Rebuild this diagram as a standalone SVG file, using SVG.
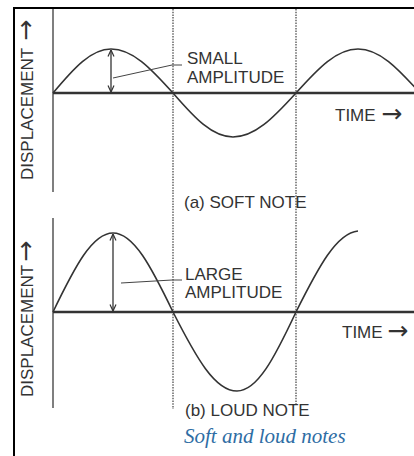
<svg xmlns="http://www.w3.org/2000/svg" width="414" height="456" viewBox="0 0 414 456">
<defs>
<marker id="ah" viewBox="0 0 8 8" refX="7.5" refY="4" markerWidth="8" markerHeight="8" markerUnits="userSpaceOnUse" orient="auto-start-reverse"><path d="M1,1 L7.5,4 L1,7" fill="none" stroke="#333" stroke-width="1.2"/></marker>
</defs>
<style>
.lbl{font-family:"Liberation Sans",Arial,sans-serif;fill:#333;font-size:17px}
.arr{font-family:"DejaVu Sans",sans-serif;font-size:25px}
.axis{stroke:#333;stroke-width:2.5}
.vaxis{stroke:#555;stroke-width:1.5}
.dot{stroke:#666;stroke-width:1.5;stroke-dasharray:1.5 1.2}
.wave{fill:none;stroke:#333;stroke-width:1.6}
.amp{stroke:#333;stroke-width:1.3}
.lead{fill:none;stroke:#444;stroke-width:1}
.cap{font-family:"Liberation Serif","Times New Roman",serif;font-style:italic;font-size:21px;fill:#2e6da4}
</style>
<rect width="414" height="456" fill="#fff"/>
<rect id="frame" x="14" y="8" width="420" height="470" fill="none" stroke="#000" stroke-width="2"/>

<g id="guides">
<line class="dot" x1="173" y1="9" x2="173" y2="409"/>
<line class="dot" x1="296" y1="9" x2="296" y2="406"/>
</g>

<g id="graph-a">
<line class="vaxis" x1="53" y1="9" x2="53" y2="192"/>
<line class="axis" x1="53" y1="93" x2="414" y2="93"/>
<path class="wave" d="M53,93 C74.1,67.8 91,49 111,49 C132.4,49 150.4,67.8 173,93 C194.8,118.2 212.3,137 233,137 C254.7,137 273.1,118.2 296,93 C318.6,67.8 336.6,49 358,49 C379.4,49 397.4,67.8 420,93"/>
<line class="amp" x1="111" y1="50" x2="111" y2="92" marker-start="url(#ah)" marker-end="url(#ah)"/>
<polyline class="lead" points="113,78 172,65 182,65"/>
<text class="lbl" x="335" y="121" font-size="15.5">TIME <tspan class="arr" dx="1" dy="1">→</tspan></text>
<text class="lbl" x="187" y="64">SMALL</text>
<text class="lbl" x="187" y="83">AMPLITUDE</text>
<text class="lbl" transform="translate(33,180) rotate(-90)">DISPLACEMENT<tspan class="arr" dx="7" dy="1">→</tspan></text>
<text class="lbl" x="184" y="208" font-size="17.5">(a) SOFT NOTE</text>
</g>

<g id="graph-b">
<line class="vaxis" x1="53" y1="218" x2="53" y2="408"/>
<line class="axis" x1="53" y1="312" x2="414" y2="312"/>
<path class="wave" d="M53,312 C74.8,266.8 92.3,233 113,233 C133.7,233 151.2,266.8 173,312 C196.3,357.8 214.9,391 237,391 C257.4,391 274.5,357.8 296,312 C318.6,266.8 336.6,233 358,231"/>
<line class="amp" x1="113" y1="234" x2="113" y2="311" marker-start="url(#ah)" marker-end="url(#ah)"/>
<polyline class="lead" points="121,283 172,280 182,280"/>
<text class="lbl" x="185" y="280">LARGE</text>
<text class="lbl" x="185" y="298">AMPLITUDE</text>
<text class="lbl" x="342" y="338" font-size="16.5">TIME <tspan class="arr" dx="0" dy="1">→</tspan></text>
<text class="lbl" font-size="16.5" transform="translate(33,397) rotate(-90)">DISPLACEMENT<tspan class="arr" dx="3" dy="1">→</tspan></text>
<text class="lbl" x="185" y="416" font-size="17.5">(b) LOUD NOTE</text>
</g>

<text id="caption" class="cap" x="184" y="443">Soft and loud notes</text>
</svg>
